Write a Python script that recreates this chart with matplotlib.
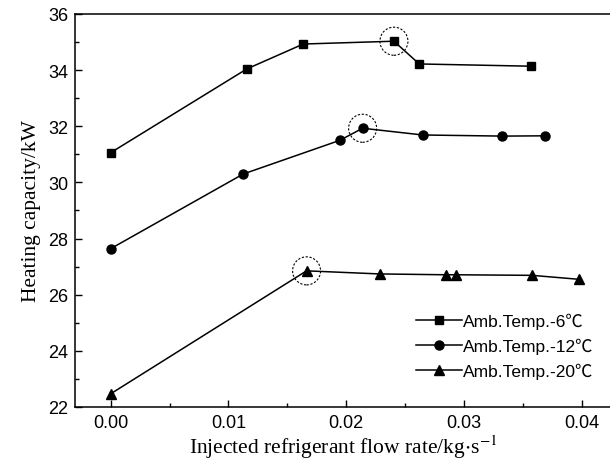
import numpy as np
import matplotlib.pyplot as plt
from matplotlib.patches import Ellipse

# dados
x_6 = [0.0, 0.01155, 0.01636, 0.02406, 0.02621, 0.0357]
y_6 = [31.06, 34.04, 34.93, 35.03, 34.22, 34.14]

x_12 = [0.0, 0.01126, 0.01947, 0.0214, 0.0265, 0.03326, 0.03691]
y_12 = [27.64, 30.30, 31.50, 31.93, 31.69, 31.65, 31.66]

x_20 = [0.0, 0.01664, 0.02284, 0.02847, 0.02932, 0.03578, 0.03974]
y_20 = [22.47, 26.85, 26.74, 26.71, 26.71, 26.69, 26.55]

labels = ['Amb.Temp.-6℃', 'Amb.Temp.-12℃', 'Amb.Temp.-20℃']

# pontos destacados com círculo tracejado
picos = [(x_6[3], y_6[3]), (x_12[3], y_12[3]), (x_20[1], y_20[1])]

plt.rcParams['font.family'] = ['Liberation Sans', 'Noto Sans CJK SC', 'DejaVu Sans']
plt.rcParams['mathtext.fontset'] = 'stix'

fig = plt.figure(figsize=(6.1, 4.64), dpi=100)
# o eixo da direita fica fora da imagem, como no original
ax = fig.add_axes([0.123, 0.1207, 0.880, 0.847])

ax.plot(x_6, y_6, 'k-s', lw=1.1, ms=6, label=labels[0])
ax.plot(x_12, y_12, 'k-o', lw=1.1, ms=6.5, label=labels[1])
ax.plot(x_20, y_20, 'k-^', lw=1.1, ms=7.5, label=labels[2])

for (px, py) in picos:
    ax.add_patch(Ellipse((px, py), 0.00238, 1.0, fill=False, ls=(0, (2, 1.5)), lw=0.8, ec='k'))

ax.set_xlim(-0.00303, 0.04257)
ax.set_ylim(22, 36)
ax.set_xticks([0.0, 0.01, 0.02, 0.03, 0.04])
ax.set_xticks([0.005, 0.015, 0.025, 0.035], minor=True)
ax.set_yticks(np.arange(22, 37, 2))
ax.set_yticks(np.arange(23, 36, 2), minor=True)
ax.tick_params(which='both', direction='in', top=False, right=False, labelsize=13)
ax.tick_params(which='major', length=5, width=1, pad=5)
ax.tick_params(which='minor', length=3, width=1)
for s in ax.spines.values():
    s.set_linewidth(1.1)

ax.set_xlabel(r'Injected refrigerant flow rate/kg$\cdot$s$^{\mathrm{-1}}$',
              family='Liberation Serif', fontsize=15.5, labelpad=1)
ax.set_ylabel('Heating capacity/kW', family='Liberation Serif', fontsize=15.5, labelpad=5)

ax.legend(loc='upper left', frameon=False, fontsize=12.5, handlelength=2.6,
          handletextpad=0.1, labelspacing=0.5, borderpad=0, borderaxespad=0,
          bbox_to_anchor=(0.636, 0.24))

plt.savefig('out.png', dpi=100)
